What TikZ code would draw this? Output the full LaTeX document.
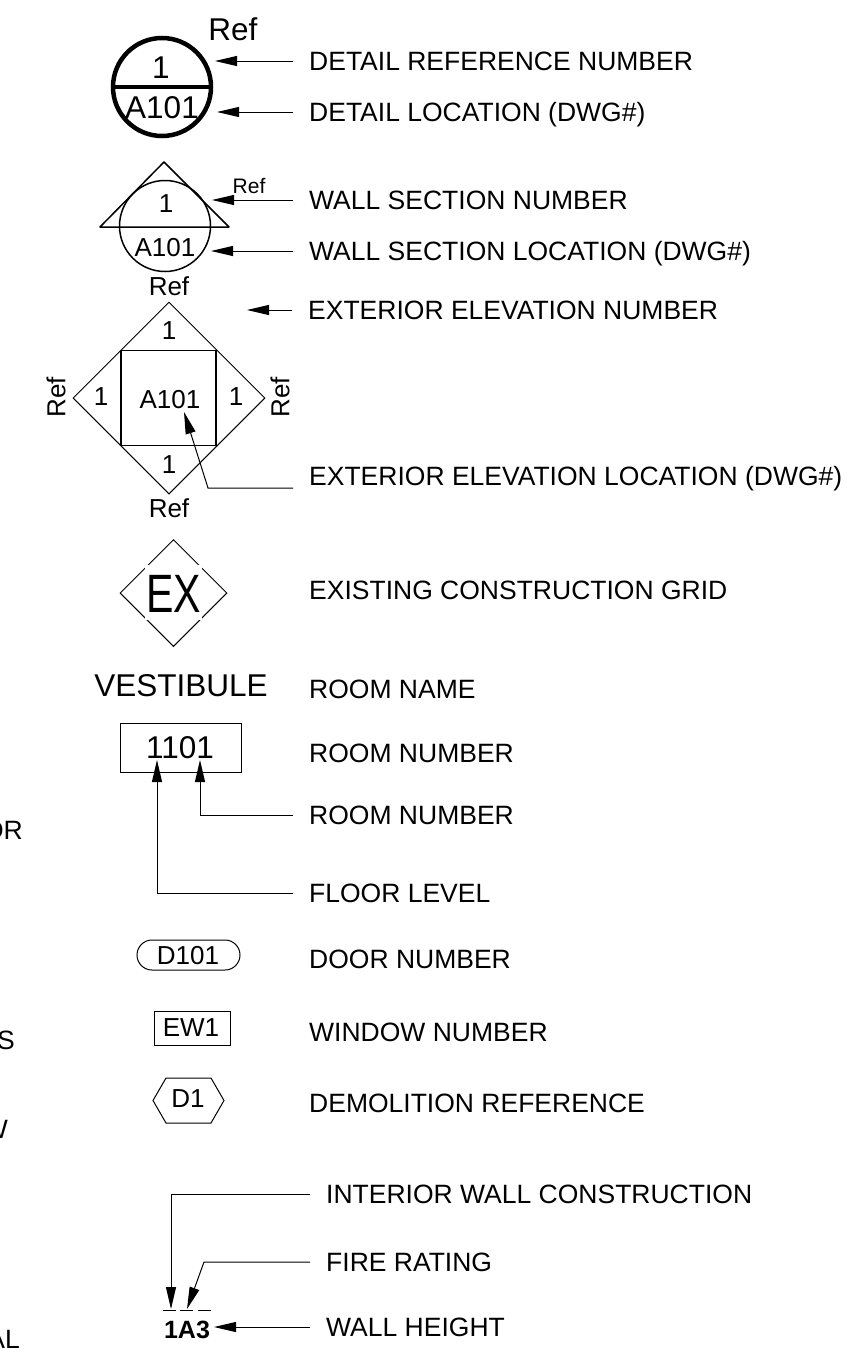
\documentclass[tikz,border=0pt]{standalone}
\usepackage{fontspec}
\setmainfont{Liberation Sans}
\usetikzlibrary{arrows.meta,shapes.geometric,shapes.misc}
\tikzset{
  lbl/.style={anchor=west,inner xsep=16pt,inner ysep=0pt,text height=18pt,text depth=0pt,font=\fontsize{26.5}{30}\selectfont},
  sym/.style={inner sep=0pt,font=\fontsize{26}{30}\selectfont},
  big/.style={inner sep=0pt,font=\fontsize{31.5}{36}\selectfont},
  lead/.style={line width=1pt,-{Triangle[length=22pt,width=10pt]}},
  thin line/.style={draw,line width=1pt,inner sep=0pt},
}
\begin{document}
\begin{tikzpicture}[x=1pt,y=-1pt]
      \useasboundingbox (0,0) rectangle (854,1349);
      % right hand labels
      \node[lbl] (L1) at (293,61) {DETAIL REFERENCE NUMBER};
      \node[lbl] (L2) at (293,112) {DETAIL LOCATION (DWG\#)};
      \node[lbl] (L3) at (293,200) {WALL SECTION NUMBER};
      \node[lbl] (L4) at (293,251) {WALL SECTION LOCATION (DWG\#)};
      \node[lbl] (L5) at (292,310) {EXTERIOR ELEVATION NUMBER};
      \node[lbl] (L6) at (293,488) {};
      \node[lbl] (L6t) at (293,476) {EXTERIOR ELEVATION LOCATION (DWG\#)};
      \node[lbl] (L7) at (293,590) {EXISTING CONSTRUCTION GRID};
      \node[lbl] (L8) at (293,689) {ROOM NAME};
      \node[lbl] (L9) at (293,753) {ROOM NUMBER};
      \node[lbl] (L10) at (293,815) {ROOM NUMBER};
      \node[lbl] (L11) at (293,893) {FLOOR LEVEL};
      \node[lbl] (L12) at (293,959) {DOOR NUMBER};
      \node[lbl] (L13) at (293,1032) {WINDOW NUMBER};
      \node[lbl] (L14) at (293,1103) {DEMOLITION REFERENCE};
      \node[lbl] (L15) at (310,1194) {INTERIOR WALL CONSTRUCTION};
      \node[lbl] (L16) at (310,1262) {FIRE RATING};
      \node[lbl] (L17) at (310,1327) {WALL HEIGHT};
      % cut off at the left edge
      \node[lbl,anchor=east,inner xsep=0pt] (C1) at (23,830) {OR};
      \node[lbl,anchor=east,inner xsep=0pt] (C2) at (15,1040) {S};
      \node[lbl,anchor=east,inner xsep=0pt] (C3) at (8,1129) {W};
      \node[lbl,anchor=east,inner xsep=0pt] (C4) at (20,1339) {AL};
      % detail bubble
      \node[big] (R1) at (233,29) {Ref};
      \node[circle,draw,line width=4.5pt,minimum size=98pt,inner sep=0pt] (D) at (162,87) {};
      \draw[line width=4.5pt] (D.west) -- (D.east);
      \node[big] (D1) at (161,68) {1};
      \node[big] (D2) at (162,108) {A101};
      % wall section
      \coordinate (Ta) at (164,162);
      \coordinate (Tb) at (100,227);
      \coordinate (Tc) at (229,227);
      \draw[line width=1.5pt,line join=round] (Ta) -- (Tb) -- (Tc) -- cycle;
      \node[circle,draw,line width=1.5pt,minimum size=91pt,inner sep=0pt] (W) at (165,226) {};
      \node[sym] (W1) at (166,204) {1};
      \node[sym] (W2) at (165,248) {A101};
      \node[inner sep=0pt,font=\fontsize{21}{24}\selectfont] (R2) at (249,186) {Ref};
      % exterior elevation
      \node[diamond,draw,line width=1pt,minimum width=192pt,minimum height=192pt,inner sep=0pt,aspect=1] (E) at (169,398) {};
      \node[thin line,line width=1.2pt,minimum size=95pt] (S) at (168.5,398) {};
      \node[sym] (E0) at (170,400) {A101};
      \node[sym] (E1) at (169,331) {1};
      \node[sym] (E2) at (101,397) {1};
      \node[sym] (E3) at (236,397) {1};
      \node[sym] (E4) at (169,465) {1};
      \node[sym] (R3) at (169,286) {Ref};
      \node[sym] (R4) at (169,508) {Ref};
      \node[sym,rotate=90] (R5) at (56,397) {Ref};
      \node[sym,rotate=90] (R6) at (280,397) {Ref};
      % grid
      \node[diamond,draw,line width=1pt,minimum width=107pt,minimum height=107pt,inner sep=0pt,aspect=1] (G) at (173.5,593) {};
      \node[fill=white,inner xsep=1pt,inner ysep=8pt,text height=39pt,text depth=0pt,font=\fontsize{54}{58}\selectfont,xscale=.76] (G1) at (173.5,592.5) {EX};
      % room tag
      \node[big] (V) at (181,686) {VESTIBULE};
      \node[thin line,minimum width=121pt,minimum height=49pt] (B) at (180.5,747.5) {};
      \node[big] (B1) at (180,748) {1101};
      % tags
      \node[thin line,rounded rectangle,minimum width=103pt,minimum height=30pt] (P) at (188.5,955) {};
      \node[sym] (P1) at (188,956) {D101};
      \node[thin line,minimum width=76pt,minimum height=34pt] (Q) at (192,1028) {};
      \node[sym] (Q1) at (191,1028) {EW1};
      \coordinate (Ha) at (153,1100.5);
      \coordinate (Hb) at (166,1078);
      \coordinate (Hc) at (211,1078);
      \coordinate (Hd) at (224,1100.5);
      \coordinate (He) at (211,1123);
      \coordinate (Hf) at (166,1123);
      \draw[line width=1pt] (Ha) -- (Hb) -- (Hc) -- (Hd) -- (He) -- (Hf) -- cycle;
      \node[sym] (H1) at (188,1099) {D1};
      % wall type
      \node[inner sep=0pt,font=\bfseries\fontsize{25}{28}\selectfont] (K) at (187,1330) {1A3};
      \coordinate (Ka) at (163,1310);
      \coordinate (Kb) at (176,1310);
      \coordinate (Kc) at (180,1310);
      \coordinate (Kd) at (193,1310);
      \coordinate (Ke) at (198,1310);
      \coordinate (Kf) at (211,1310);
      \draw[line width=1pt] (Ka) -- (Kb);
      \draw[line width=1pt] (Kc) -- (Kd);
      \draw[line width=1pt] (Ke) -- (Kf);
      % arrow tips
      \coordinate (A1) at (215,61);
      \coordinate (A2) at (217,112);
      \coordinate (A3) at (212,200);
      \coordinate (A4) at (211,251);
      \coordinate (A5) at (247,310);
      \coordinate (A6) at (184,412);
      \coordinate (A9) at (200,760);
      \coordinate (A10) at (157,760);
      \coordinate (A11) at (171,1309);
      \coordinate (A12) at (187,1309);
      \coordinate (A13) at (214,1327);
      \draw[lead] (L1.west) -- (A1);
      \draw[lead] (L2.west) -- (A2);
      \draw[lead] (L3.west) -- (A3);
      \draw[lead] (L4.west) -- (A4);
      \draw[lead] (L5.west) -- (A5);
      \draw[lead] (L6.west) -- (208,488) -- (A6);
      \draw[lead] (L10.west) -| (A9);
      \draw[lead] (L11.west) -| (A10);
      \draw[lead] (L15.west) -| (A11);
      \draw[lead] (L16.west) -- (204,1262) -- (A12);
      \draw[lead] (L17.west) -- (A13);
\end{tikzpicture}
\end{document}
